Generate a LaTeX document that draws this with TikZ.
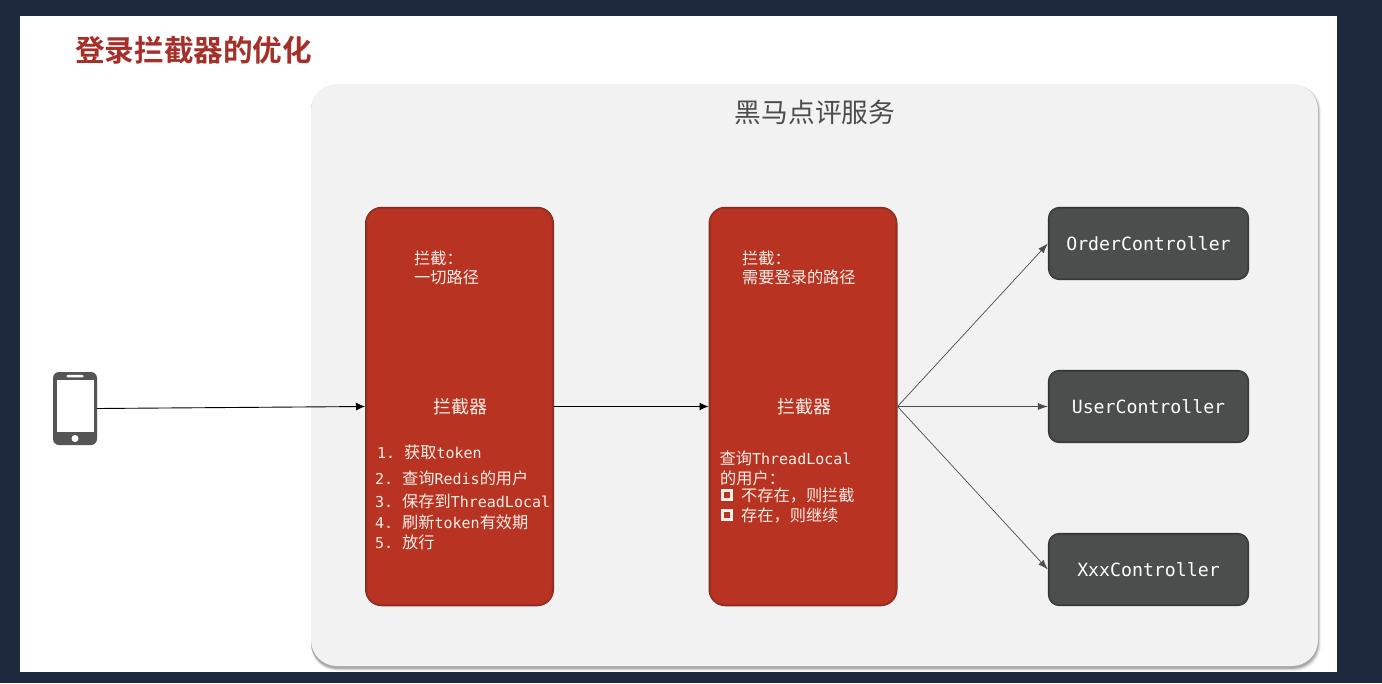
\documentclass[tikz,border=0pt]{standalone}
\usepackage{fontspec}
\usetikzlibrary{arrows.meta}
\newfontfamily\cjk{Noto Sans CJK SC}
\newfontfamily\cjkb{Noto Sans CJK SC Bold}
\newfontfamily\mymono{DejaVu Sans Mono}
\definecolor{pagebg}{HTML}{1D2A3D}
\definecolor{panelgrey}{HTML}{F2F2F2}
\definecolor{redfill}{HTML}{B83321}
\definecolor{rededge}{HTML}{7A2A22}
\definecolor{darkfill}{HTML}{4A4E4D}
\definecolor{darkedge}{HTML}{2A2D2E}
\definecolor{titlered}{HTML}{A5302A}
\definecolor{phonegrey}{HTML}{555555}
\definecolor{labelwhite}{HTML}{F7EFE8}
\tikzset{
  x=1pt,y=-1pt,
  redbox/.style={rectangle,rounded corners=16pt,fill=redfill,draw=rededge,line width=1.5pt,minimum width=187.5pt,minimum height=398pt,inner sep=0pt},
  ctrl/.style={rectangle,rounded corners=11pt,fill=darkfill,draw=darkedge,line width=1.3pt,minimum width=200pt,minimum height=72pt,inner sep=0pt},
  ctrllabel/.style={text=white,inner sep=0pt,font=\mymono\fontsize{18.2}{20}\selectfont},
  txt/.style={anchor=west,inner sep=0pt,text=labelwhite,font=\cjk\fontsize{16.2}{18}\selectfont},
  mid/.style={inner sep=0pt,text=labelwhite,font=\cjk\fontsize{18}{20}\selectfont},
  checkbox/.style={rectangle,draw=labelwhite,line width=2.4pt,minimum size=9pt,inner sep=0pt},
  thick arrow/.style={draw=black,line width=0.9pt,-{Latex[length=9pt,width=8pt]}},
  fan arrow/.style={draw=black!70,line width=0.7pt,-{Latex[length=10pt,width=7pt]}},
  inner glow red/.style={draw=rededge!45!redfill,line width=1.5pt,rounded corners=14pt},
  inner glow dark/.style={draw=darkedge!40!darkfill,line width=1.5pt,rounded corners=9pt},
}
\newcommand{\mo}[1]{{\mymono\fontsize{15}{18}\selectfont #1}}
\newcommand{\num}[1]{\makebox[27pt][l]{\mo{#1}}}
\newcommand{\fwc}{{\char"FF0C}}
\newcommand{\fwk}{{\char"FF1A}}
\begin{document}
\begin{tikzpicture}
\useasboundingbox (0,0) rectangle (1382,683);
\fill[pagebg] (0,0) rectangle (1382,683);
\fill[white] (20,16) rectangle (1337,672);
\node[anchor=west,inner sep=0pt,text=titlered,font=\cjkb\fontsize{29.6}{32}\selectfont] (title) at (75,50) {登录拦截器的优化};
% panel shadow
\fill[black!5,rounded corners=26pt] (311,85) rectangle (1321,671);
\fill[black!14,rounded corners=26pt] (311,85) rectangle (1320,670);
\fill[black!28,rounded corners=26pt] (311,85) rectangle (1319,669);
\fill[black!34,rounded corners=26pt] (311,85) rectangle (1318.5,668);
\node[rectangle,rounded corners=26pt,fill=panelgrey,minimum width=1007pt,minimum height=582pt,inner sep=0pt] (panel) at (814.5,375) {};
\node[inner sep=0pt,text=black!70,font=\cjk\fontsize{26.7}{29}\selectfont] (paneltitle) at (815,112) {黑马点评服务};
% phone
\node[rectangle,rounded corners=6pt,fill=phonegrey,minimum width=44pt,minimum height=73pt,inner sep=0pt] (phone) at (75,408.5) {};
\node[rectangle,fill=white,minimum width=37pt,minimum height=52pt,inner sep=0pt] (screen) at (75.5,406) {};
\node[rectangle,rounded corners=1pt,fill=white,minimum width=17pt,minimum height=2.5pt,inner sep=0pt] (speaker) at (75,376) {};
\node[circle,fill=white,minimum size=7pt,inner sep=0pt] (homebtn) at (75,438.5) {};
% boxes
\node[redbox] (r1) at (459.5,406.5) {};
\node[redbox] (r2) at (803,406.5) {};
\node[ctrl] (c1) at (1148.5,243.5) {};
\node[ctrl] (c2) at (1148.5,406.5) {};
\node[ctrl] (c3) at (1148.5,569.5) {};
% soft inner edges
\foreach \b in {r1,r2} \draw[inner glow red] ([shift={(1.5,1.5)}]\b.north west) rectangle ([shift={(-1.5,-1.5)}]\b.south east);
\foreach \b in {c1,c2,c3} \draw[inner glow dark] ([shift={(1.4,1.4)}]\b.north west) rectangle ([shift={(-1.4,-1.4)}]\b.south east);
\node[ctrllabel] (c1t) at (c1) {OrderController};
\node[ctrllabel] (c2t) at (c2) {UserController};
\node[ctrllabel] (c3t) at (c3) {XxxController};
% first box texts
\node[txt] (a1) at (414,258) {拦截\fwk};
\node[txt] (a2) at (414,277) {一切路径};
\node[mid] (a3) at (460,407) {拦截器};
\node[txt] (a4) at (377,452.5) {\num{1.}获取\mo{token}};
\node[txt] (a5) at (375,478) {\num{2.}查询\mo{Redis}的用户};
\node[txt] (a6) at (375,501) {\num{3.}保存到\mo{ThreadLocal}};
\node[txt] (a7) at (375,522) {\num{4.}刷新\mo{token}有效期};
\node[txt] (a8) at (375,542) {\num{5.}放行};
% second box texts
\node[txt] (b1) at (742,258) {拦截\fwk};
\node[txt] (b2) at (742,277) {需要登录的路径};
\node[mid] (b3) at (804,407) {拦截器};
\node[txt] (b4) at (719.5,458) {查询\mo{ThreadLocal}};
\node[txt] (b5) at (720,478) {的用户\fwk};
\node[checkbox] (bx1) at (727,495) {};
\node[txt] (b6) at (741,496) {不存在\fwc 则拦截};
\node[checkbox] (bx2) at (727,515) {};
\node[txt] (b7) at (741,516) {存在\fwc 则继续};
% connectors
\draw[thick arrow] (phone.east) -- (r1.west);
\draw[thick arrow] (r1.east) -- (r2.west);
\draw[fan arrow] (r2.east) -- (c1.west);
\draw[fan arrow] (r2.east) -- (c2.west);
\draw[fan arrow] (r2.east) -- (c3.west);
\end{tikzpicture}
\end{document}
